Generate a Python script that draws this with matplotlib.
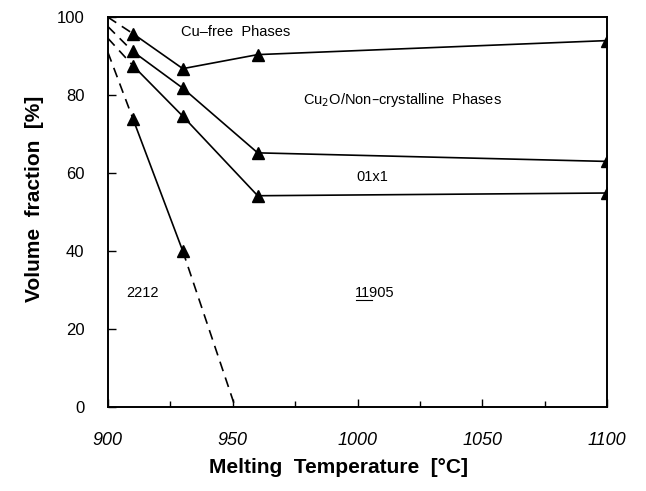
import matplotlib
matplotlib.use("Agg")
import matplotlib.pyplot as plt
from matplotlib.ticker import MultipleLocator

plt.rcParams['font.family'] = ['Liberation Sans', 'DejaVu Sans']

# measured points (melting temperature, volume fraction)
temps = [910, 930, 960, 1100]
cu_free = [95.8, 86.8, 90.4, 94.0]
cu2o = [91.2, 81.8, 65.2, 63.0]
phase_01x1 = [87.6, 74.6, 54.2, 54.9]
phase_2212 = [74.0, 40.0]

# extrapolations drawn dashed
start_x = 900
start_y = [100.0, 97.6, 94.6, 91.0]
zero_temp = 951

fig = plt.figure(figsize=(6.46, 4.91), dpi=100)
ax = fig.add_axes([0.167, 0.171, 0.773, 0.794])

kw = dict(color='black', lw=1.2)
for y0, series in zip(start_y, [cu_free, cu2o, phase_01x1, phase_2212]):
    ax.plot([start_x, temps[0]], [y0, series[0]], ls=(0, (6, 4)), **kw)
    ax.plot(temps[:len(series)], series, marker='^', ms=8, mfc='black', **kw)
ax.plot([temps[1], zero_temp], [phase_2212[-1], 0], ls=(0, (6, 4)), **kw)

tkw = dict(fontsize=10.5, va='center')
ax.text(951, 96.3, 'Cu\u2013free  Phases', ha='center', **tkw)
ax.text(1018, 78.7, 'Cu$_2$O/Non\u2013crystalline  Phases', ha='center', **tkw)
ax.text(1006, 59, '01x1', ha='center', **tkw)
ax.text(914, 29.2, '2212', ha='center', **tkw)
ax.text(999, 29.2, '11905', ha='left', **tkw)
ax.plot([999.3, 1005.6], [27.4, 27.4], color='black', lw=0.8)

ax.set_xlim(900, 1100)
ax.set_ylim(0, 100)
ax.xaxis.set_major_locator(MultipleLocator(50))
ax.xaxis.set_minor_locator(MultipleLocator(25))
ax.yaxis.set_major_locator(MultipleLocator(20))
ax.tick_params(which='both', direction='in', top=False, right=False)
ax.tick_params(which='major', length=6, width=1)
ax.tick_params(which='minor', length=4, width=1)
ax.tick_params(axis='x', pad=18, labelsize=13)
ax.tick_params(axis='y', pad=17, labelsize=12)
for lab in ax.get_xticklabels():
    lab.set_style('italic')
for s in ax.spines.values():
    s.set_linewidth(1.4)

ax.set_xlabel('Melting  Temperature  [\u00b0C]', fontsize=15, fontweight='bold')
ax.set_ylabel('Volume  fraction  [%]', fontsize=15, fontweight='bold')
ax.xaxis.set_label_coords(0.461, -0.13)
ax.yaxis.set_label_coords(-0.128, 0.533)

fig.savefig('out.png', dpi=100)
